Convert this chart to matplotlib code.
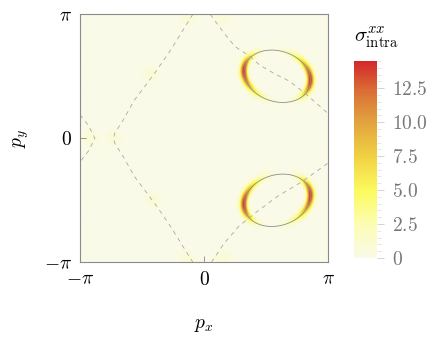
import matplotlib

matplotlib.use("Agg")

import matplotlib.pyplot as plt
import numpy as np
from matplotlib.colors import LinearSegmentedColormap

plt.rcParams["mathtext.fontset"] = "cm"
plt.rcParams["font.family"] = "serif"

# Fermi-surface pockets (ellipses) carrying the intraband weight
pocket_cx = [1.857, 1.857]
pocket_cy = [1.571, -1.571]
pocket_a = [0.861, 0.861]
pocket_b = [0.641, 0.641]
pocket_angle = [-17.4, 17.4]  # degrees
pocket_peak = [14.5, 14.5]

# faint spots along the dashed contour
spot_x = [-1.37, -1.29, -0.43, 0.48, -0.43, 0.48, -2.89, -2.30]
spot_y = [1.60, -1.57, 3.07, 3.07, -3.07, -3.07, 0.0, 0.0]
spot_amp = [1.0, 1.0, 1.0, 1.0, 1.0, 1.0, 1.0, 1.0]

# dashed contours, in units of pi
dash_left_x = [-0.09, -0.27, -0.38, -0.48, -0.56, -0.65, -0.72, -0.73,
               -0.72, -0.65, -0.56, -0.48, -0.38, -0.27, -0.09]
dash_left_y = [1.0, 0.71, 0.55, 0.415, 0.31, 0.15, 0.04, 0.0,
               -0.04, -0.15, -0.31, -0.415, -0.55, -0.71, -1.0]
dash_upper_x = [0.05, 0.16, 0.25, 0.37, 0.45, 0.57, 0.69, 0.83, 1.0]
dash_upper_y = [1.0, 0.85, 0.74, 0.66, 0.59, 0.52, 0.46, 0.35, 0.2]
dash_lower_x = [0.06, 0.16, 0.28, 0.43, 0.59, 0.79, 1.0]
dash_lower_y = [-1.0, -0.85, -0.71, -0.59, -0.47, -0.35, -0.2]
dash_edge_x = [-1.0, -0.93, -0.88, -0.93, -1.0]
dash_edge_y = [0.19, 0.1, 0.0, -0.1, -0.19]

cbar_ticks = [0, 2.5, 5.0, 7.5, 10.0, 12.5]
cbar_labels = ["0", "2.5", "5.0", "7.5", "10.0", "12.5"]
vmax = 14.5

cmap = LinearSegmentedColormap.from_list(
    "solar",
    [(0.0, "#fafae8"), (0.17, "#fcfcb4"), (0.34, "#fbfb5e"), (0.52, "#f0d042"),
     (0.69, "#e2a33e"), (0.85, "#da6e36"), (1.0, "#d3282a")],
)

n = 500
g = np.linspace(-np.pi, np.pi, n)
PX, PY = np.meshgrid(g, g)
field = np.zeros_like(PX)
width = 0.09
for cx, cy, a, b, ang, amp in zip(pocket_cx, pocket_cy, pocket_a, pocket_b, pocket_angle, pocket_peak):
    t = np.deg2rad(ang)
    dx, dy = PX - cx, PY - cy
    xr = dx * np.cos(t) + dy * np.sin(t)
    yr = -dx * np.sin(t) + dy * np.cos(t)
    F = (xr / a) ** 2 + (yr / b) ** 2 - 1
    gx = 2 * xr * np.cos(t) / a**2 - 2 * yr * np.sin(t) / b**2
    gy = 2 * xr * np.sin(t) / a**2 + 2 * yr * np.cos(t) / b**2
    gn = np.hypot(gx, gy) + 1e-12
    d = F / gn
    field += amp * (gx / gn) ** 2 * np.exp(-(d / width) ** 2)
for sx, sy, amp in zip(spot_x, spot_y, spot_amp):
    field += amp * np.exp(-((PX - sx) ** 2 + (PY - sy) ** 2) / (2 * 0.13**2))

fig = plt.figure(figsize=(4.36, 3.39), dpi=100)
ax = fig.add_axes([0.1835, 0.2263, 0.5688, 0.7316])
cax = fig.add_axes([0.812, 0.239, 0.053, 0.581])

im = ax.imshow(field, origin="lower", extent=[-np.pi, np.pi, -np.pi, np.pi],
               cmap=cmap, vmin=0, vmax=vmax, interpolation="bilinear", aspect="auto")

a_pts = np.linspace(0, 2 * np.pi, 300)
for cx, cy, a, b, ang in zip(pocket_cx, pocket_cy, pocket_a, pocket_b, pocket_angle):
    t = np.deg2rad(ang)
    ex = a * np.cos(a_pts)
    ey = b * np.sin(a_pts)
    ax.plot(cx + ex * np.cos(t) - ey * np.sin(t), cy + ex * np.sin(t) + ey * np.cos(t),
            color="#8c8c8c", lw=0.6)

for xs, ys in [(dash_left_x, dash_left_y), (dash_upper_x, dash_upper_y),
               (dash_lower_x, dash_lower_y), (dash_edge_x, dash_edge_y)]:
    ax.plot(np.array(xs) * np.pi, np.array(ys) * np.pi, color="#a8a8a8", lw=0.6,
            dashes=(5, 5))

ax.set_xlim(-np.pi, np.pi)
ax.set_ylim(-np.pi, np.pi)
ticks = [-np.pi, 0, np.pi]
labels = [r"$-\pi$", r"$0$", r"$\pi$"]
ax.set_xticks(ticks, labels)
ax.set_yticks(ticks, labels)
ax.tick_params(direction="in", length=4, width=0.6, color="#888888", labelsize=14, pad=6)
for s in ax.spines.values():
    s.set_color("#8a8a8a")
    s.set_linewidth(0.8)
ax.set_xlabel(r"$p_x$", fontsize=14, labelpad=20)
ax.set_ylabel(r"$p_y$", fontsize=14, labelpad=9)

cb = fig.colorbar(im, cax=cax)
cb.outline.set_visible(False)
cb.set_ticks(cbar_ticks, labels=[f"${s}$" for s in cbar_labels])
cb.ax.minorticks_on()
cb.ax.yaxis.set_minor_locator(matplotlib.ticker.MultipleLocator(0.5))
cb.ax.tick_params(which="major", length=5, width=0.6, color="#cccccc", labelsize=14,
                  labelcolor="#777777", pad=6)
cb.ax.tick_params(which="minor", length=3, width=0.5, color="#dddddd")
fig.text(0.862, 0.89, r"$\sigma^{xx}_{\mathrm{intra}}$", fontsize=15, ha="center", va="center")

fig.savefig("out.png", dpi=100)
